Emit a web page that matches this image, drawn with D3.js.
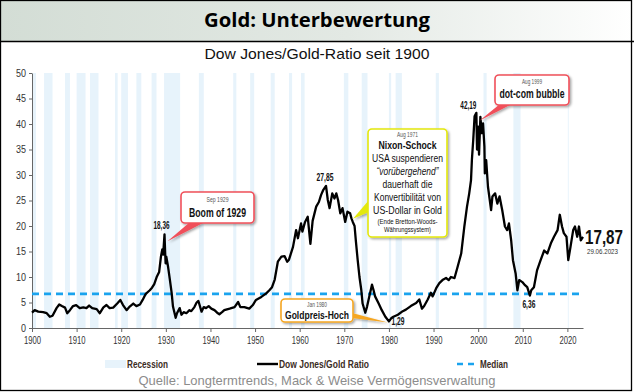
<!DOCTYPE html>
<html><head><meta charset="utf-8">
<script src="https://cdn.jsdelivr.net/npm/d3@7/dist/d3.min.js"></script>
<style>
html,body{margin:0;padding:0;background:#fff;}
svg{display:block;}
text{font-family:"Liberation Sans Narrow","Liberation Sans",Arial,sans-serif;}
</style></head>
<body><svg id="c" width="634" height="392"></svg>
<script>
// ---- data ----
const years = [1900.0,1900.6,1901.4,1902.5,1903.3,1904.0,1904.6,1905.5,1906.1,1906.7,1907.4,1907.9,1908.5,1909.2,1909.9,1910.7,1911.5,1912.2,1912.8,1913.5,1914.5,1915.2,1916.0,1916.7,1917.4,1918.2,1919.1,1919.8,1920.4,1921.2,1921.9,1922.7,1923.4,1924.2,1924.8,1925.5,1926.4,1926.9,1927.4,1928.0,1928.5,1928.9,1929.2,1929.4,1929.7,1929.85,1929.95,1930.1,1930.5,1930.9,1931.3,1931.6,1932.2,1932.5,1933.1,1933.5,1934.0,1934.6,1935.3,1935.7,1936.4,1936.9,1937.3,1938.0,1938.5,1939.0,1939.6,1940.2,1940.9,1941.5,1942.0,1942.6,1943.1,1944.3,1945.4,1946.2,1946.7,1947.6,1948.7,1949.5,1950.2,1951.4,1952.5,1953.2,1953.8,1954.4,1955.1,1955.9,1956.6,1957.2,1957.6,1958.5,1959.2,1959.6,1960.3,1960.6,1961.2,1961.8,1962.4,1962.9,1963.7,1964.3,1964.8,1965.3,1965.9,1966.3,1966.7,1967.3,1967.8,1968.2,1968.6,1969.1,1969.6,1970.2,1970.7,1971.3,1971.6,1971.9,1972.3,1972.6,1973.0,1973.4,1973.8,1974.1,1974.7,1975.1,1975.6,1976.2,1976.5,1976.9,1977.7,1978.4,1979.2,1980.0,1980.5,1981.0,1981.5,1982.0,1983.1,1983.8,1984.9,1986.1,1986.8,1987.4,1987.9,1988.7,1989.4,1989.8,1990.6,1991.3,1992.0,1992.8,1993.4,1993.9,1994.7,1995.4,1996.2,1996.9,1997.5,1998.0,1998.4,1998.6,1998.9,1999.2,1999.6,1999.75,2000.0,2000.2,2000.5,2000.8,2001.1,2001.4,2001.5,2001.8,2002.2,2002.6,2002.9,2003.2,2003.8,2004.3,2004.8,2005.4,2006.0,2006.5,2006.9,2007.4,2007.8,2008.4,2008.8,2009.2,2009.9,2010.5,2011.0,2011.6,2011.9,2012.5,2013.2,2014.0,2014.8,2015.5,2016.3,2017.0,2017.8,2018.3,2018.8,2019.2,2019.8,2020.2,2020.7,2021.3,2021.7,2022.2,2022.6,2023.0,2023.5];
const ratio = [3.0,3.5,3.2,3.1,2.9,2.2,2.4,3.9,4.6,4.3,4.0,2.9,3.5,4.3,4.5,3.9,4.05,3.9,4.4,3.9,3.7,2.9,4.05,4.5,3.9,4.0,4.8,5.5,4.5,3.5,4.2,4.8,4.3,4.6,5.5,6.7,7.4,7.9,8.6,10.1,11.0,14.0,15.4,14.4,18.36,14.7,12.7,14.0,12.0,9.5,6.9,4.2,2.0,2.9,3.9,2.6,3.1,2.9,3.5,3.3,4.1,5.0,5.3,3.2,4.1,3.9,4.3,3.8,3.5,3.0,2.7,3.1,3.5,3.8,4.1,5.1,4.1,4.1,3.8,4.5,5.5,6.1,6.8,7.4,8.0,9.5,13.0,14.0,14.1,13.0,13.4,15.9,19.2,17.6,20.5,18.9,20.8,21.8,16.5,21.0,23.8,24.7,26.1,27.1,27.85,25.1,23.5,26.4,25.4,26.4,25.1,22.5,23.5,20.8,22.8,22.5,21.5,20.8,20.0,17.0,13.3,10.0,7.5,4.8,3.0,4.2,6.2,8.5,7.6,6.2,4.8,3.5,2.2,1.29,1.9,2.2,2.4,2.6,3.3,3.6,4.3,4.9,5.6,3.8,4.3,5.6,6.9,6.2,7.8,8.8,9.4,9.8,9.4,10.0,9.8,12.0,14.6,19.9,23.8,26.4,29.0,33.0,36.9,41.5,42.19,35.0,39.5,34.0,41.4,38.2,40.1,35.6,30.3,32.9,27.7,25.1,23.1,25.8,26.4,24.4,25.8,23.1,19.9,19.2,20.5,17.2,13.3,10.7,7.4,9.4,9.0,8.4,8.0,6.36,7.4,8.0,11.3,13.3,15.2,14.6,16.6,17.9,19.2,22.2,19.9,18.6,17.9,13.3,15.9,19.2,19.9,17.9,19.9,17.2,17.87];
const medianValue = 6.7;
const recessionStart = [1899.5,1902.7,1907.4,1910.0,1913.0,1918.6,1920.0,1923.4,1926.8,1929.6,1937.4,1945.1,1948.9,1953.5,1957.6,1960.3,1969.9,1973.9,1980.0,1981.5,1990.5,2001.2,2007.9,2020.1];
const recessionEnd   = [1900.9,1904.6,1908.5,1912.0,1914.9,1919.2,1921.5,1924.5,1927.9,1933.2,1938.5,1945.8,1949.8,1954.4,1958.3,1961.1,1970.9,1975.2,1980.5,1982.9,1991.2,2001.9,2009.5,2020.3];
const xTicks = [1900,1910,1920,1930,1940,1950,1960,1970,1980,1990,2000,2010,2020];
const yTicks = [0,5,10,15,20,25,30,35,40,45,50];
const legendLabels = ["Recession","Dow Jones/Gold Ratio","Median"];

// ---- layout ----
const svg = d3.select("#c");
const W = 634, H = 392;
const L = 32, R = 583, T = 73, B = 328;
const x = d3.scaleLinear().domain([1900, 2023.5]).range([L, R]);
const y = d3.scaleLinear().domain([0, 50]).range([B, T]);

const defs = svg.append("defs");
const g = defs.append("linearGradient").attr("id","tg").attr("x1","0").attr("x2","1");
g.append("stop").attr("offset","0").attr("stop-color","#d3ddd5");
g.append("stop").attr("offset","0.55").attr("stop-color","#e3e9e4");
g.append("stop").attr("offset","1").attr("stop-color","#ffffff");
const f = defs.append("filter").attr("id","sh").attr("x","-20%").attr("y","-20%").attr("width","150%").attr("height","160%");
f.append("feDropShadow").attr("dx",1.5).attr("dy",1.5).attr("stdDeviation",1.2).attr("flood-color","#000").attr("flood-opacity",0.35);

function lab(t, xx, yy, size, weight, anchor, col, len){
  const s = svg.append("text").attr("x",xx).attr("y",yy).attr("text-anchor",anchor||"middle")
   .style("font-size",size+"px").style("font-weight",weight||"bold").attr("fill",col||"#111").text(t);
  if (len) s.attr("textLength",len).attr("lengthAdjust","spacingAndGlyphs");
  return s;
}

// title bar
svg.append("rect").attr("x",0).attr("y",0).attr("width",W).attr("height",41).attr("fill","url(#tg)");
svg.append("line").attr("x1",0).attr("x2",W).attr("y1",41.5).attr("y2",41.5).attr("stroke","#000").attr("stroke-width",1.3);
svg.append("text").attr("x",317).attr("y",27).attr("text-anchor","middle")
  .style("font-family","'Open Sans','Noto Sans',sans-serif").style("font-weight","bold").style("font-size","19.5px")
  .attr("textLength",226).attr("lengthAdjust","spacingAndGlyphs")
  .text("Gold: Unterbewertung");
svg.append("text").attr("x",317).attr("y",59).attr("text-anchor","middle")
  .style("font-size","15px").attr("fill","#111")
  .attr("textLength",225).attr("lengthAdjust","spacingAndGlyphs")
  .text("Dow Jones/Gold-Ratio seit 1900");

// recessions
svg.append("g").selectAll("rect").data(recessionStart).join("rect")
  .attr("x",(d)=>x(Math.max(d,1900)))
  .attr("width",(d,i)=>x(recessionEnd[i]) - x(Math.max(d,1900)))
  .attr("y",T).attr("height",B-T).attr("fill","#e7f3fb");

// axes
const xa = svg.append("g").attr("transform",`translate(0,${B})`)
  .call(d3.axisBottom(x).tickValues(xTicks).tickFormat(d3.format("d")).tickSize(4).tickSizeOuter(0));
const ya = svg.append("g").attr("transform",`translate(${L},0)`)
  .call(d3.axisLeft(y).tickValues(yTicks).tickSize(3).tickSizeOuter(0));
[xa,ya].forEach(a=>{
  a.selectAll("path,line").attr("stroke","#666");
  a.selectAll("text").attr("fill","#333").style("font-size","10px");
});
xa.selectAll("text").attr("dy","0.9em").attr("textLength",17).attr("lengthAdjust","spacingAndGlyphs");
ya.selectAll("text").each(function(d){ d3.select(this).attr("textLength", d>=10 ? 10 : 5).attr("lengthAdjust","spacingAndGlyphs"); });

// median
svg.append("line").attr("x1",L).attr("x2",R).attr("y1",y(medianValue)).attr("y2",y(medianValue))
  .attr("stroke","#1aa3ee").attr("stroke-width",2.6).attr("stroke-dasharray","7,5");

// series
const pts = years.map((yr,i)=>[yr, ratio[i]]);
svg.append("path").datum(pts)
  .attr("d", d3.line().x(d=>x(d[0])).y(d=>y(d[1])))
  .attr("fill","none").attr("stroke","#000").attr("stroke-width",2.3).attr("stroke-linejoin","round");

// value labels
const iPk29 = ratio.indexOf(18.36), iPk65 = ratio.indexOf(27.85), iMin80 = ratio.indexOf(1.29), iPk99 = ratio.indexOf(42.19), iMin11 = ratio.indexOf(6.36);
lab("18,36", x(years[iPk29])-3, y(ratio[iPk29])-5, 10, "bold", "middle", "#111", 16);
lab("27,85", x(years[iPk65])-1, y(ratio[iPk65])-5, 10, "bold", "middle", "#111", 17);
lab("1,29", x(years[iMin80])+9, y(ratio[iMin80])+4, 10, "bold", "middle", "#111", 13);
lab("42,19", x(years[iPk99])-8, y(ratio[iPk99])-4, 10, "bold", "middle", "#111", 16);
lab("6,36", x(years[iMin11])-1, y(ratio[iMin11])+12, 10, "bold", "middle", "#111", 13);
const last = ratio.length-1;
lab("17,87", 585, y(ratio[last])+7, 20, "bold", "start", "#111", 38);
lab("29.06.2023", 587, y(ratio[last])+17, 8, "normal", "start", "#333", 31);

// callout boxes
function callout(bx,by,bw,bh,col,ptr){
  const gg = svg.append("g").attr("filter","url(#sh)");
  gg.append("path").attr("d",`M${ptr[0]},${ptr[1]} L${ptr[2]},${ptr[3]} L${ptr[4]},${ptr[5]} Z`).attr("fill",col);
  gg.append("rect").attr("x",bx).attr("y",by).attr("width",bw).attr("height",bh).attr("rx",4)
    .attr("fill","#fff").attr("stroke",col).attr("stroke-width",1.6);
}
// Boom of 1929
callout(181,192,73,31,"#f0505a",[190,222, x(years[iPk29])+3, y(ratio[iPk29])+7, 205,222]);
lab("Sep 1929",217.5,202,7,"normal","middle","#555",22);
lab("Boom of 1929",217.5,217,12,"bold","middle","#111",57);
// Nixon
const nx = x(1971.5), ny = y(21.8);
callout(368,129,79,108,"#e3e80a",[369,200, nx+2, ny+2, 369,212]);
lab("Aug 1971",407.5,137,7,"normal","middle","#555",21);
lab("Nixon-Schock",407.5,149,11.5,"bold","middle","#111",58);
lab("USA suspendieren",407.5,162,11,"normal","middle","#111",71);
lab("\u201Cvorübergehend\u201D",407.5,175,11,"normal","middle","#111",62).style("font-style","italic");
lab("dauerhaft die",407.5,188,11,"normal","middle","#111",50);
lab("Konvertibilität von",407.5,201,11,"normal","middle","#111",67);
lab("US-Dollar in Gold",407.5,214,11,"normal","middle","#111",69);
lab("(Ende Bretton-Woods-",407.5,224,7,"normal","middle","#111",60);
lab("Währungssystem)",407.5,232,7,"normal","middle","#111",47);
// Goldpreis-Hoch
callout(281,299,72,23,"#f5a623",[352,313, x(years[iMin80])-1, y(ratio[iMin80])+1, 352,318]);
lab("Jan 1980",317,307,7,"normal","middle","#555",20);
lab("Goldpreis-Hoch",317,318.5,11.5,"bold","middle","#111",64);
// dot-com
callout(495,75,74,30,"#f0505a",[500,104, x(years[iPk99])+3, y(ratio[iPk99])+8, 512,104]);
lab("Aug 1999",532,84,7,"normal","middle","#555",20);
lab("dot-com bubble",532,98,12,"bold","middle","#111",65);

// legend
const ly = 364;
svg.append("rect").attr("x",105).attr("y",ly-4).attr("width",21).attr("height",8).attr("fill","#e7f3fb");
lab(legendLabels[0],127,ly+4,10,"bold","start","#3b2c24",41);
svg.append("line").attr("x1",257).attr("x2",278).attr("y1",ly).attr("y2",ly).attr("stroke","#000").attr("stroke-width",2.4);
lab(legendLabels[1],279,ly+4,10,"bold","start","#3b2c24",90);
svg.append("line").attr("x1",457).attr("x2",479).attr("y1",ly).attr("y2",ly).attr("stroke","#1aa3ee").attr("stroke-width",2.6).attr("stroke-dasharray","6,5");
lab(legendLabels[2],480,ly+4,10,"bold","start","#3b2c24",28);

// source
svg.append("text").attr("x",317).attr("y",385).attr("text-anchor","middle")
  .style("font-size","13.5px").attr("fill","#8c8c8c")
  .attr("textLength",357).attr("lengthAdjust","spacingAndGlyphs")
  .text("Quelle: Longtermtrends, Mack & Weise Vermögensverwaltung");

// frame
svg.append("rect").attr("x",0.5).attr("y",0.5).attr("width",631).attr("height",390).attr("fill","none").attr("stroke","#000").attr("stroke-width",1.3);
</script></body></html>
